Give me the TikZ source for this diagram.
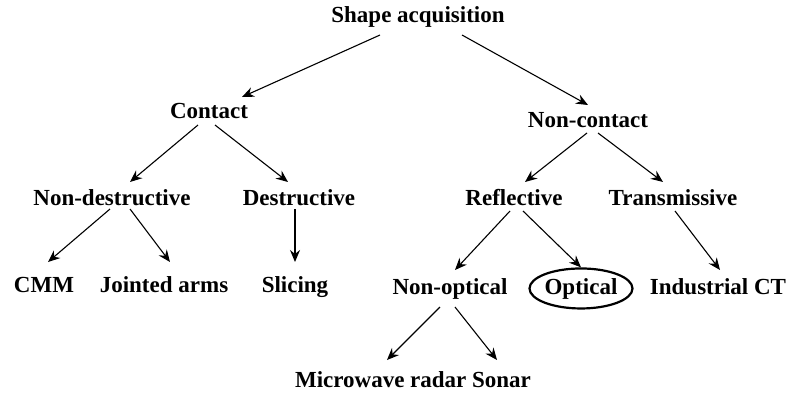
\documentclass[tikz,border=0pt]{standalone}
\usepackage{fontspec}
\setmainfont{Liberation Serif}
\usetikzlibrary{arrows.meta,shapes.geometric}
\begin{document}
\begin{tikzpicture}[x=1pt,y=-1pt,
  lbl/.style={anchor=base,inner sep=0pt,font=\fontsize{23}{27}\selectfont\bfseries},
  arr/.style={line width=1.1pt,-{Stealth[length=12pt,width=10pt,inset=4pt]}},
  circled/.style={lbl,shape=ellipse,draw,line width=2.2pt,minimum width=95pt,minimum height=40pt}]
\useasboundingbox (0,0) rectangle (788,394);
\node[lbl] (title) at (418,22) {Shape acquisition};
\node[lbl] (contact) at (209,118) {Contact};
\node[lbl] (noncontact) at (588,127) {Non-contact};
\node[lbl] (nondestr) at (112,205) {Non-destructive};
\node[lbl] (destr) at (299,205) {Destructive};
\node[lbl] (refl) at (514,205) {Reflective};
\node[lbl] (trans) at (673,205) {Transmissive};
\node[lbl] (cmm) at (44,292) {CMM};
\node[lbl] (joint) at (164,292) {Jointed arms};
\node[lbl] (slice) at (295,292) {Slicing};
\node[lbl] (nonopt) at (450,294) {Non-optical};
\node[circled] (opt) at (581,294) {Optical};
\node[lbl] (ict) at (718,294) {Industrial CT};
\node[lbl] (micro) at (413,387) {Microwave radar Sonar};

\draw[arr] ([shift={(-38,13)}]title.base) -- ([shift={(33,-21)}]contact.base);
\draw[arr] ([shift={(44,13)}]title.base) -- ([shift={(0,-22)}]noncontact.base);
\draw[arr] ([shift={(-11,7)}]contact.base) -- ([shift={(18,-23)}]nondestr.base);
\draw[arr] ([shift={(6,7)}]contact.base) -- ([shift={(-11,-23)}]destr.base);
\draw[arr] ([shift={(-1,6)}]noncontact.base) -- ([shift={(11,-23)}]refl.base);
\draw[arr] ([shift={(10,6)}]noncontact.base) -- ([shift={(-10,-23)}]trans.base);
\draw[arr] ([shift={(-2,4)}]nondestr.base) -- ([shift={(4,-30)}]cmm.base);
\draw[arr] ([shift={(18,4)}]nondestr.base) -- ([shift={(6,-30)}]joint.base);
\draw[arr] ([shift={(-4,4)}]destr.base) -- ([shift={(0,-30)}]slice.base);
\draw[arr] ([shift={(-4,6)}]refl.base) -- ([shift={(5,-24)}]nonopt.base);
\draw[arr] ([shift={(9,6)}]refl.base) -- (opt.north);
\draw[arr] ([shift={(2,6)}]trans.base) -- ([shift={(2,-24)}]ict.base);
\draw[arr] ([shift={(-10,13)}]nonopt.base) -- ([shift={(-26,-27)}]micro.base);
\draw[arr] ([shift={(5,13)}]nonopt.base) -- ([shift={(84,-27)}]micro.base);
\end{tikzpicture}
\end{document}
